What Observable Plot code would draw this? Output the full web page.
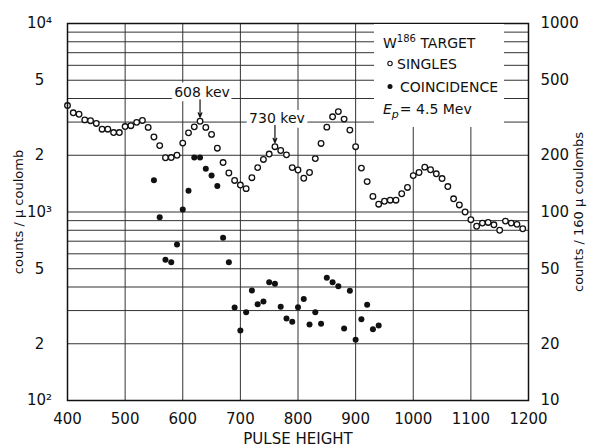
<!DOCTYPE html>
<html><head><meta charset="utf-8">
<script src="https://cdn.jsdelivr.net/npm/d3@7"></script>
<script src="https://cdn.jsdelivr.net/npm/@observablehq/plot@0.6"></script>
<style>body{margin:0;background:#fff}</style>
</head><body><div id="chart"></div>
<script>
// ---- data ----
const singlesPulse = [400,410,420,430,440,450,460,470,480,490,500,510,520,530,540,550,560,570,580,590,
  600,610,620,630,640,650,660,670,680,690,700,710,720,730,740,750,760,770,780,790,
  800,810,820,830,840,850,860,870,880,890,900,910,920,930,940,950,960,970,980,990,
  1000,1010,1020,1030,1040,1050,1060,1070,1080,1090,1100,1110,1120,1130,1140,1150,1160,1170,1180,1190];
const singlesCounts = [3670,3360,3300,3080,3050,2950,2750,2750,2640,2640,2840,2870,2990,3060,2810,2500,2250,1940,1945,2000,
  2320,2630,2830,3030,2810,2580,2180,1830,1610,1470,1390,1330,1520,1720,1900,2030,2220,2120,2010,1720,
  1670,1510,1620,1920,2310,2820,3200,3410,3110,2720,2220,1710,1450,1210,1100,1140,1155,1155,1250,1350,
  1560,1620,1730,1675,1595,1505,1365,1175,1090,1000,910,840,873,880,855,800,895,873,860,815];
const coincPulse = [550,560,570,580,590,600,610,620,630,640,650,660,670,680,690,700,710,720,730,740,
  750,760,770,780,790,800,810,820,830,840,850,860,870,880,890,900,910,920,930,940];
const coincCounts = [1475,938,558,542,672,1030,1295,1945,1945,1695,1560,1375,730,542,311,235,294,383,324,335,
  424,416,314,272,262,312,345,253,294,255,448,424,404,241,382,210,270,322,239,250];
const xTicks = [400,500,600,700,800,900,1000,1100,1200];
const yTicks = [100,200,500,1000,2000,5000,10000];
const yTickLabelsLeft = ["10²","2","5","10³","2","5","10⁴"];
const yTickLabelsRight = ["10","20","50","100","200","500","1000"];
const yGrid = [100,200,300,400,500,600,700,800,900,1000,2000,3000,4000,5000,6000,7000,8000,9000,10000];
const peakLabels = ["608 kev","730 kev"];
const peakPulse = [630,760];
const xTitle = "PULSE HEIGHT";
const yTitleLeft = "counts / μ coulomb";
const yTitleRight = "counts / 160 μ coulombs";

// ---- tables ----
const singles = singlesPulse.map((p,i)=>({pulse:p, counts:singlesCounts[i]}));
const coinc = coincPulse.map((p,i)=>({pulse:p, counts:coincCounts[i]}));
const singlesAt = new Map(singles.map(d=>[d.pulse,d.counts]));
const peaks = peakPulse.map((p,i)=>({pulse:p, label:peakLabels[i], v:singlesAt.get(p)}));
const leftMap = new Map(yTicks.map((t,i)=>[t,yTickLabelsLeft[i]]));
const rightMap = new Map(yTicks.map((t,i)=>[t,yTickLabelsRight[i]]));

const plot = Plot.plot({
  width:592, height:447,
  marginTop:23, marginBottom:47, marginLeft:67, marginRight:64,
  x:{domain:[400,1200]},
  y:{type:"log", domain:[100,10000]},
  style:{fontFamily:"DejaVu Sans", fontSize:"15px", color:"#111", background:"white"},
  marks:[
    Plot.ruleY(yGrid, {stroke:"#333", strokeWidth:1}),
    Plot.ruleX(xTicks, {stroke:"#333", strokeWidth:1}),
    Plot.text(peaks, {x:"pulse", y:d=>d.v*1.3, text:"label", dy:-7, dx:2, fontSize:14,
      fill:"#111", stroke:"white", strokeWidth:10, lineAnchor:"middle"}),
    Plot.arrow(peaks, {x1:"pulse", x2:"pulse", y1:d=>d.v*1.3, y2:d=>d.v*1.05,
      stroke:"#111", strokeWidth:1.2, headLength:6, headAngle:45}),
    Plot.dot(singles, {x:"pulse", y:"counts", r:2.8, stroke:"#111", strokeWidth:1.3, fill:"white"}),
    Plot.dot(coinc, {x:"pulse", y:"counts", r:3, fill:"#111"}),
    Plot.frame({stroke:"#111", strokeWidth:1.5}),
    Plot.axisX({ticks:xTicks, tickSize:0, tickPadding:13, tickFormat:"d", label:null}),
    Plot.axisY({anchor:"left", ticks:yTicks, tickSize:0, tickPadding:28, textAnchor:"middle",
      tickFormat:d=>leftMap.get(d), label:null}),
    Plot.axisY({anchor:"right", ticks:yTicks, tickSize:0, tickPadding:12,
      tickFormat:d=>rightMap.get(d), label:null}),
    Plot.text([xTitle], {frameAnchor:"bottom", dy:39, text:d=>d, fontSize:15, lineAnchor:"middle"}),
    Plot.text([yTitleLeft], {frameAnchor:"left", dx:-49, rotate:-90, text:d=>d, fontSize:13,
      textAnchor:"middle", lineAnchor:"middle"}),
    Plot.text([yTitleRight], {frameAnchor:"right", dx:50, rotate:-90, text:d=>d, fontSize:13,
      textAnchor:"middle", lineAnchor:"middle"})
  ]
});
document.getElementById("chart").appendChild(plot);

// ---- legend box ----
const svg = d3.select(plot);
const g = svg.append("g").style("font-family","'DejaVu Sans'").style("font-size","14px")
  .attr("fill","#111").attr("text-anchor","start");
g.append("rect").attr("x",374).attr("y",24).attr("width",130).attr("height",103)
  .attr("fill","white").attr("stroke","none");
const t1 = g.append("text").attr("x",383).attr("y",47.5);
t1.append("tspan").text("W");
t1.append("tspan").style("font-size","10px").attr("dy",-6).text("186");
t1.append("tspan").attr("dy",6).text(" TARGET");
g.append("circle").attr("cx",390).attr("cy",63.5).attr("r",2.2).attr("fill","white").attr("stroke","#111").attr("stroke-width",1.1);
g.append("text").attr("x",397).attr("y",68.8).text("SINGLES");
g.append("circle").attr("cx",390).attr("cy",86.5).attr("r",2.5).attr("fill","#111");
g.append("text").attr("x",400).attr("y",92).text("COINCIDENCE");
const t4 = g.append("text").attr("x",383).attr("y",113.5);
t4.append("tspan").style("font-style","italic").text("E");
t4.append("tspan").style("font-style","italic").style("font-size","11px").attr("dy",4).text("p");
t4.append("tspan").attr("dy",-4).attr("dx",1).text("= 4.5 Mev");
</script>
</body></html>
